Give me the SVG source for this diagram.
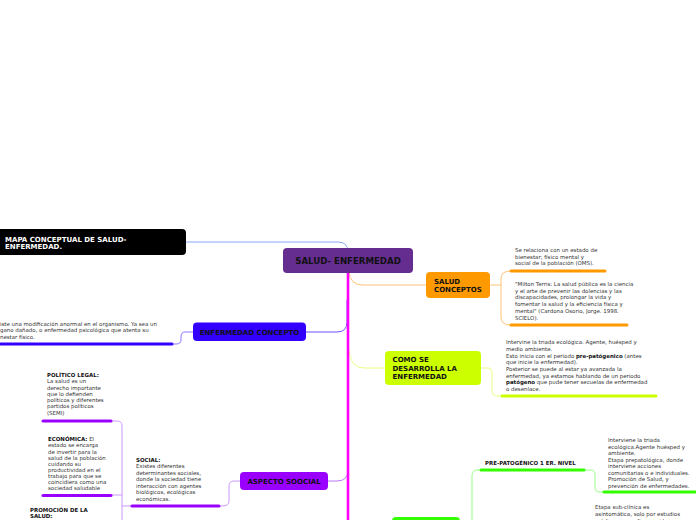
<svg xmlns="http://www.w3.org/2000/svg" width="696" height="520" viewBox="0 0 696 520">
<style>
.t{font-family:"DejaVu Sans",Verdana,sans-serif;font-size:5.45px;fill:#333}
.b{font-weight:bold;fill:#111}
.lab{font-family:"DejaVu Sans",Verdana,sans-serif;font-weight:bold;font-size:7px;fill:#111}
.c{fill:none;stroke-width:1;stroke-linecap:round;stroke-linejoin:round}
.bar{fill:none;stroke-width:3;stroke-linecap:round}
</style>
<rect width="696" height="520" fill="#fff"/>
<g id="connectors">
  <path class="c" d="M348,262 L348,252 Q348,242 338,242 L186,242" stroke="#8aa8f8"/>
  <path class="c" d="M347,300 L347,322 Q347,332 337,332 L306,332" stroke="#6a55ff"/>
  <path class="c" d="M193,332 L185,332 Q181,332 181,337 L181,340 Q181,344 176,344 L173,344" stroke="#8a78ff"/>
  <path class="c" d="M349,272 Q350,285 363,285 L426,285" stroke="#ffc275"/>
  <path class="c" d="M490,285 L501,285 M510,271 Q501,271 501,279 L501,317 Q501,325 510,325" stroke="#ffc275"/>
  <path class="c" d="M349,350 Q350,368 364,368 L385,368" stroke="#e6ff80"/>
  <path class="c" d="M481,368 L488,368 Q492,368 492,373 L492,391 Q492,396 498,396 L501,396" stroke="#e6ff80"/>
  <path class="c" d="M348,458 L348,470 Q348,481 337,481 L328,481" stroke="#b77aff"/>
  <path class="c" d="M240,481 L234,481 Q229,481 229,486 L229,501 Q229,506 222,506 L220,506" stroke="#cc99ff"/>
  <path class="c" d="M112,421 L117,421 Q122,421 122,426 L122,520 M112,495 L122,495 M122,506 L131,506" stroke="#cc99ff"/>
  <path class="c" d="M585,470 L591,470 Q595,470 595,475 L595,488 Q595,492 600,492 L603,492" stroke="#99ff88"/>
  <path class="c" d="M480,470 L477,470 Q472,470 472,476 L472,520" stroke="#99ff88"/>
  <line x1="348" y1="273" x2="348" y2="520" stroke="#ff00ff" stroke-width="2.6"/>
</g>
<g id="title">
  <rect x="-6" y="229" width="192" height="26" rx="4" fill="#000"/>
  <text class="lab" style="fill:#fff" x="5" y="241.5">MAPA CONCEPTUAL DE SALUD-</text>
  <text class="lab" style="fill:#fff" x="5" y="249">ENFERMEDAD.</text>
</g>
<g id="root">
  <rect x="283" y="248" width="130" height="25" rx="4" fill="#662d91"/>
  <text class="lab" style="font-size:8.6px" x="348" y="264.2" text-anchor="middle">SALUD- ENFERMEDAD</text>
</g>
<g id="salud-conceptos">
  <rect x="426" y="272" width="64" height="26" rx="4" fill="#ff9900"/>
  <text class="lab" x="434" y="284.2">SALUD</text>
  <text class="lab" x="434" y="291.8">CONCEPTOS</text>
</g>
<g id="salud-def1">
  <text class="t" x="515" y="252">Se relaciona con un estado de</text>
  <text class="t" x="515" y="258.5">bienestar; físico mental y</text>
  <text class="t" x="515" y="265">social  de la población (OMS).</text>
  <line class="bar" x1="511" y1="271" x2="605" y2="271" stroke="#ff9900"/>
</g>
<g id="salud-def2">
  <text class="t" x="515" y="286">"Milton Terris: La salud pública es la ciencia</text>
  <text class="t" x="515" y="292.7">y el arte de prevenir las dolencias y las</text>
  <text class="t" x="515" y="299.4">discapacidades, prolongar la vida y</text>
  <text class="t" x="515" y="306.1">fomentar la salud y la eficiencia física y</text>
  <text class="t" x="515" y="312.8">mental" (Cardona Osorio, Jorge. 1998.</text>
  <text class="t" x="515" y="319.5">SCIELO).</text>
  <line class="bar" x1="511" y1="325" x2="627" y2="325" stroke="#ff9900"/>
</g>
<g id="como-se-desarrolla">
  <rect x="385" y="351" width="96" height="34" rx="4" fill="#ccff00"/>
  <text class="lab" x="392.5" y="361.8">COMO SE</text>
  <text class="lab" x="392.5" y="370.6">DESARROLLA LA</text>
  <text class="lab" x="392.5" y="379.3">ENFERMEDAD</text>
</g>
<g id="desarrollo-texto">
  <text class="t" x="506" y="344.3">Intervine la triada ecológica. Agente, huésped y</text>
  <text class="t" x="506" y="351">medio ambiente.</text>
  <text class="t" x="506" y="357.7">Esto inicia  con el periodo <tspan class="b">pre-patógenico</tspan> (antes</text>
  <text class="t" x="506" y="364.3">que inicie la enfermedad).</text>
  <text class="t" x="506" y="371">Posterior se puede al estar ya avanzada la</text>
  <text class="t" x="506" y="377.7">enfermedad, ya estamos hablando de un periodo</text>
  <text class="t" x="506" y="384.3"><tspan class="b">patógeno</tspan> que pude tener secuelas de enfermedad</text>
  <text class="t" x="506" y="391">o desenlace.</text>
  <line class="bar" x1="502" y1="396" x2="656" y2="396" stroke="#ccff00"/>
</g>
<g id="enfermedad-concepto">
  <rect x="193" y="322.5" width="113" height="18.5" rx="4" fill="#3300ff"/>
  <text class="lab" x="249.5" y="334.8" text-anchor="middle">ENFERMEDAD CONCEPTO</text>
</g>
<g id="enfermedad-texto">
  <text class="t" x="0" y="326">iste una modificación anormal en el organismo. Ya sea un</text>
  <text class="t" x="0" y="332.2">gano dañado, o enfermedad psicológica que atenta su</text>
  <text class="t" x="0" y="338.6">nestar físico.</text>
  <line class="bar" x1="-2" y1="344" x2="172" y2="344" stroke="#3300ff"/>
</g>
<g id="aspecto-social">
  <rect x="240" y="472" width="88" height="18" rx="4" fill="#9900ff"/>
  <text class="lab" x="284" y="484.2" text-anchor="middle">ASPECTO SOOCIAL</text>
</g>
<g id="social">
  <text class="t b" x="136" y="462">SOCIAL:</text>
  <text class="t" x="136" y="468">Existes diferentes</text>
  <text class="t" x="136" y="474.6">determinantes sociales,</text>
  <text class="t" x="136" y="481.2">donde la sociedad tiene</text>
  <text class="t" x="136" y="487.8">interacción con agentes</text>
  <text class="t" x="136" y="494.4">biológicos, ecológicas</text>
  <text class="t" x="136" y="501">económicas.</text>
  <line class="bar" x1="132" y1="506" x2="219" y2="506" stroke="#9900ff"/>
</g>
<g id="politico-legal">
  <text class="t b" x="47" y="377">POLÍTICO LEGAL:</text>
  <text class="t" x="47" y="383.2">La salud es un</text>
  <text class="t" x="47" y="389.5">derecho importante</text>
  <text class="t" x="47" y="395.8">que lo defienden</text>
  <text class="t" x="47" y="402.1">políticos  y diferentes</text>
  <text class="t" x="47" y="408.4">partidos políticos</text>
  <text class="t" x="47" y="414.7">(SEMI)</text>
  <line class="bar" x1="43" y1="421" x2="111" y2="421" stroke="#9900ff"/>
</g>
<g id="economica">
  <text class="t" x="48" y="441.3"><tspan class="b">ECONÓMICA:</tspan> El</text>
  <text class="t" x="48" y="447.4">estado se encarga</text>
  <text class="t" x="48" y="453.5">de invertir para la</text>
  <text class="t" x="48" y="459.6">salud de la población</text>
  <text class="t" x="48" y="465.7">cuidando su</text>
  <text class="t" x="48" y="471.8">productividad en el</text>
  <text class="t" x="48" y="477.9">trabajo para que  se</text>
  <text class="t" x="48" y="484">coincidiera como una</text>
  <text class="t" x="48" y="490.1">sociedad saludable</text>
  <line class="bar" x1="43" y1="495.5" x2="111" y2="495.5" stroke="#9900ff"/>
</g>
<g id="promocion">
  <text class="t b" x="30" y="511.5">PROMOCIÓN DE LA</text>
  <text class="t b" x="30" y="518">SALUD:</text>
</g>
<g id="patogenico">
  <rect x="392" y="517" width="68" height="16" rx="4" fill="#33ff00"/>
</g>
<g id="pre-patogenico">
  <text class="t b" x="485" y="465">PRE-PATOGÉNICO 1 ER. NIVEL</text>
  <line class="bar" x1="481" y1="470" x2="584" y2="470" stroke="#33ff00"/>
</g>
<g id="pre-patogenico-texto">
  <text class="t" x="608" y="442">Interviene la triada</text>
  <text class="t" x="608" y="448.5">ecológica.Agente huésped y</text>
  <text class="t" x="608" y="455">ambiente.</text>
  <text class="t" x="608" y="461.5">Etapa prepatológica, donde</text>
  <text class="t" x="608" y="468">interviene acciones</text>
  <text class="t" x="608" y="474.5">comunitarias o  e individuales.</text>
  <text class="t" x="608" y="481">Promoción de Salud, y</text>
  <text class="t" x="608" y="487.5">prevención  de enfermedades.</text>
  <line class="bar" x1="604" y1="492" x2="698" y2="492" stroke="#33ff00"/>
</g>
<g id="sub-clinica">
  <text class="t" x="595" y="509.3">Etapa sub-clínica es</text>
  <text class="t" x="595" y="516.2">asintomática, solo por estudios</text>
  <text class="t" x="595" y="522.5">médicos se confirman si hay un</text>
</g>
</svg>
